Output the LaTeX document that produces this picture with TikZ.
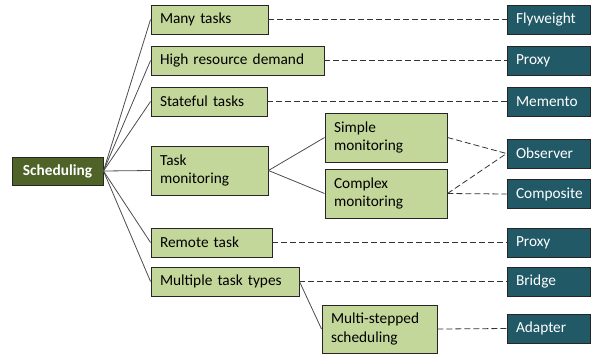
\documentclass[tikz,border=0pt]{standalone}
\usepackage{fontspec}
\setmainfont{Carlito}
\definecolor{gfill}{HTML}{C4D79B}
\definecolor{sfill}{HTML}{4F6228}
\definecolor{tfill}{HTML}{215967}
\begin{document}
\begin{tikzpicture}[x=0.75pt,y=-0.75pt,
  base/.style={draw=black!85, line width=0.7pt, inner xsep=6.75pt, inner ysep=0pt,
    font=\fontsize{11.5pt}{14pt}\selectfont, align=left},
  gbox/.style 2 args={base, fill=gfill, minimum width=#1*0.75pt, minimum height=#2*0.75pt,
    text width=(#1-18)*0.75pt},
  tbox/.style={base, fill=tfill, text=white, minimum width=83*0.75pt, minimum height=29*0.75pt,
    text width=65*0.75pt},
  solid link/.style={draw=black!70, line width=0.6pt},
  dash link/.style={draw=black!80, line width=0.6pt, dash pattern=on 4.5pt off 2.25pt}]
\useasboundingbox (0,0) rectangle (591,354);
% root
\node[draw=black!85, line width=0.7pt, fill=sfill, text=white, font=\fontsize{11.5pt}{14pt}\selectfont\bfseries,
  minimum width=91*0.75pt, minimum height=28*0.75pt, inner sep=0pt] (sch) at (57.5,171) {Scheduling};
% left column
\node[gbox={117}{29}] (many) at (209.5,19.5) {Many tasks};
\node[gbox={173}{29}] (high) at (237.5,60.5) {High resource demand};
\node[gbox={116}{29}] (state) at (209,101.5) {Stateful tasks};
\node[gbox={117}{49}] (mon) at (209.5,170.5) {Task\\monitoring};
\node[gbox={121}{29}] (remote) at (211.5,242.5) {Remote task};
\node[gbox={148}{29}] (multi) at (225,281.5) {Multiple task types};
% middle column
\node[gbox={122}{49}] (simple) at (386,137.5) {Simple\\monitoring};
\node[gbox={122}{49}] (complex) at (386,193.5) {Complex\\monitoring};
\node[gbox={115}{48}] (step) at (379.5,329) {Multi-stepped\\scheduling};
% right column
\node[tbox] (fly) at (548.5,19.5) {Flyweight};
\node[tbox] (proxyA) at (548.5,60.5) {Proxy};
\node[tbox] (memento) at (548.5,101.5) {Memento};
\node[tbox] (observer) at (548.5,153.5) {Observer};
\node[tbox] (composite) at (548.5,194) {Composite};
\node[tbox] (proxyB) at (548.5,242.5) {Proxy};
\node[tbox] (bridge) at (548.5,281.5) {Bridge};
\node[tbox] (adapter) at (548.5,328.5) {Adapter};
% solid connectors
\foreach \t in {many,high,state,mon,remote,multi}
  \draw[solid link] (sch.east) -- (\t.west);
\draw[solid link] (mon.east) -- (simple.west);
\draw[solid link] (mon.east) -- (complex.west);
\draw[solid link] (multi.east) -- (step.west);
% dashed connectors
\draw[dash link] (many.east) -- (fly.west);
\draw[dash link] (high.east) -- (proxyA.west);
\draw[dash link] (state.east) -- (memento.west);
\draw[dash link] (simple.east) -- (observer.west);
\draw[dash link] (complex.east) -- (observer.west);
\draw[dash link] (complex.east) -- (composite.west);
\draw[dash link] (remote.east) -- (proxyB.west);
\draw[dash link] (multi.east) -- (bridge.west);
\draw[dash link] (step.east) -- (adapter.west);
\end{tikzpicture}
\end{document}
